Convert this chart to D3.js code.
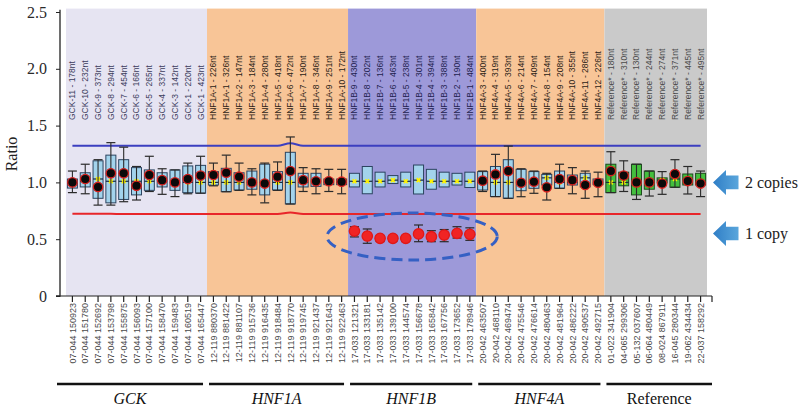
<!DOCTYPE html>
<html><head><meta charset="utf-8">
<script src="https://cdn.jsdelivr.net/npm/d3@7"></script>
<style>body{margin:0;background:#fff}svg{display:block}</style>
</head><body>
<svg id="c" width="800" height="409"></svg>
<script>
const groups = ["GCK","HNF1A","HNF1B","HNF4A","Reference"];
const probeGroup = [
 "GCK","GCK","GCK","GCK","GCK","GCK","GCK","GCK","GCK","GCK","GCK",
 "HNF1A","HNF1A","HNF1A","HNF1A","HNF1A","HNF1A","HNF1A","HNF1A","HNF1A","HNF1A","HNF1A",
 "HNF1B","HNF1B","HNF1B","HNF1B","HNF1B","HNF1B","HNF1B","HNF1B","HNF1B","HNF1B",
 "HNF4A","HNF4A","HNF4A","HNF4A","HNF4A","HNF4A","HNF4A","HNF4A","HNF4A","HNF4A",
 "Reference","Reference","Reference","Reference","Reference","Reference","Reference","Reference"];
const probeLabels = [
 "GCK-11 - 178nt","GCK-10 - 232nt","GCK-9 - 373nt","GCK-8 - 294nt","GCK-7 - 454nt","GCK-6 - 166nt","GCK-5 - 265nt","GCK-4 - 337nt","GCK-3 - 142nt","GCK-1 - 220nt","GCK-1 - 423nt",
 "HNF1A-1 - 226nt","HNF1A-1 - 326nt","HNF1A-2 - 147nt","HNF1A-3 - 184nt","HNF1A-4 - 280nt","HNF1A-5 - 418nt","HNF1A-6 - 472nt","HNF1A-7 - 190nt","HNF1A-8 - 346nt","HNF1A-9 - 251nt","HNF1A-10 - 172nt",
 "HNF1B-9 - 430nt","HNF1B-8 - 202nt","HNF1B-7 - 136nt","HNF1B-6 - 463nt","HNF1B-5 - 238nt","HNF1B-4 - 301nt","HNF1B-4 - 394nt","HNF1B-3 - 388nt","HNF1B-2 - 190nt","HNF1B-1 - 484nt",
 "HNF4A-3 - 400nt","HNF4A-4 - 319nt","HNF4A-5 - 393nt","HNF4A-6 - 214nt","HNF4A-7 - 409nt","HNF4A-8 - 154nt","HNF4A-9 - 208nt","HNF4A-10 - 355nt","HNF4A-11 - 286nt","HNF4A-12 - 226nt",
 "Reference* - 180nt","Reference* - 310nt","Reference* - 130nt","Reference* - 244nt","Reference* - 274nt","Reference* - 371nt","Reference* - 445nt","Reference* - 495nt"];
const probeIds = [
 "07-044 150923","07-044 151780","07-044 152692","07-044 153798","07-044 155875","07-044 156093","07-044 157100","07-044 158470","07-044 159483","07-044 160519","07-044 165447",
 "12-119 880370","12-119 881422","12-119 881107","12-119 915736","12-119 916435","12-119 918484","12-119 918770","12-119 919745","12-119 921437","12-119 921643","12-119 922463",
 "17-033 121321","17-033 133181","17-033 135142","17-033 139100","17-033 144574","17-033 156678","17-033 165842","17-033 167756","17-033 173652","17-033 178946",
 "20-042 463507","20-042 468110","20-042 469474","20-042 475546","20-042 476614","20-042 480463","20-042 481964","20-042 486222","20-042 490537","20-042 492715",
 "01-022 341904","04-065 299306","05-132 037607","06-064 480449","08-024 867911","16-045 280344","19-062 434434","22-037 158292"];
const boxLow = [
 0.95,0.96,0.86,0.82,0.85,0.89,0.93,0.96,0.93,0.91,0.905,
 0.977,0.918,0.933,0.94,0.89,0.933,0.81,0.96,0.965,0.98,0.98,
 0.96,0.90,0.96,0.99,0.96,0.898,0.94,0.96,0.977,0.955,
 0.933,0.875,0.86,0.927,0.948,0.977,0.948,0.977,0.96,0.98,
 0.91,0.97,0.89,0.94,0.997,0.957,0.977,0.977];
const boxHigh = [
 1.03,1.085,1.19,1.24,1.20,1.13,1.11,1.085,1.11,1.145,1.15,
 1.095,1.124,1.085,1.10,1.16,1.095,1.265,1.08,1.08,1.03,1.03,
 1.08,1.14,1.09,1.06,1.09,1.153,1.115,1.09,1.08,1.09,
 1.095,1.14,1.20,1.115,1.095,1.07,1.10,1.065,1.08,1.03,
 1.16,1.09,1.16,1.10,1.04,1.08,1.074,1.08];
const boxMid = [
 0.99,1.01,1.03,1.01,1.01,1.01,1.01,1.01,1.0,1.0,1.0,
 1.0,1.0,1.0,1.0,1.0,1.0,1.0,1.0,1.0,1.0,1.0,
 1.01,1.01,1.01,1.02,1.01,1.02,1.01,1.01,1.01,1.01,
 1.0,1.0,1.0,1.0,1.0,1.04,1.0,1.0,1.04,1.0,
 1.0,1.0,1.0,1.0,1.02,1.03,1.02,1.0];
const sampleValue = [
 1.00,1.03,0.96,1.08,1.08,0.97,1.065,1.02,1.0,1.03,1.06,
 1.065,1.085,1.05,1.00,0.99,1.05,1.10,1.02,1.01,1.01,1.006,
 0.572,0.528,0.508,0.508,0.508,0.546,0.522,0.537,0.552,0.543,
 1.015,1.07,1.10,0.997,1.006,0.957,1.03,1.02,0.977,0.997,
 1.10,1.06,1.0,1.0,0.99,1.074,1.012,0.99];
const errLow = [
 0.91,0.90,0.80,0.80,0.83,0.845,0.92,0.895,0.875,0.90,0.905,
 0.97,0.918,0.93,0.89,0.82,0.93,0.81,0.92,0.90,0.92,0.90,
 0.52,0.464,0.48,0.48,0.48,0.478,0.478,0.478,0.51,0.49,
 0.92,0.875,0.86,0.874,0.904,0.845,0.948,0.90,0.86,0.874,
 0.91,0.92,0.85,0.88,0.895,0.957,0.898,0.875];
const errHigh = [
 1.10,1.16,1.20,1.35,1.31,1.14,1.23,1.12,1.11,1.17,1.23,
 1.17,1.24,1.17,1.12,1.17,1.18,1.40,1.13,1.12,1.115,1.115,
 0.61,0.59,0.53,0.53,0.53,0.625,0.575,0.585,0.61,0.60,
 1.10,1.247,1.32,1.12,1.10,1.08,1.16,1.13,1.10,1.09,
 1.27,1.19,1.16,1.10,1.095,1.20,1.14,1.10];
const upperLimit = [
 1.323,1.323,1.323,1.323,1.323,1.323,1.323,1.323,1.323,1.323,1.323,
 1.323,1.323,1.323,1.323,1.323,1.323,1.345,1.323,1.323,1.323,1.323,
 1.323,1.323,1.323,1.323,1.323,1.323,1.323,1.323,1.323,1.323,
 1.323,1.323,1.323,1.323,1.323,1.323,1.323,1.323,1.323,1.323,
 1.323,1.323,1.323,1.323,1.323,1.323,1.323,1.323];
const lowerLimit = [
 0.724,0.724,0.724,0.723,0.722,0.722,0.721,0.721,0.721,0.721,0.721,
 0.721,0.721,0.721,0.721,0.721,0.721,0.735,0.721,0.721,0.721,0.721,
 0.721,0.721,0.721,0.721,0.721,0.721,0.721,0.721,0.721,0.721,
 0.721,0.721,0.721,0.721,0.721,0.721,0.721,0.721,0.721,0.721,
 0.721,0.721,0.721,0.721,0.721,0.721,0.721,0.721];
const yTicks = [0, 0.5, 1.0, 1.5, 2.0, 2.5];
const yTickLabels = ["0","0.5","1.0","1.5","2.0","2.5"];
const copyLabels = ["2 copies","1 copy"];
const copyLevels = [1.0, 0.55];
const deletedGroup = "HNF1B";

// styles
const bandColor = {GCK:"#e6e4f2",HNF1A:"#f8c597",HNF1B:"#9d99d9",HNF4A:"#f8c597",Reference:"#cacaca"};
const topLabelColor = {GCK:"#3c3c5c",HNF1A:"#2a2216",HNF1B:"#1e1e4e",HNF4A:"#2a2216",Reference:"#4a4a4a"};
const serif = "'Liberation Serif','DejaVu Serif',serif";
const sans = "'Liberation Sans',Arial,sans-serif";

const svg = d3.select("#c");
const n = probeLabels.length;
const x = d3.scaleBand().domain(d3.range(n)).range([66, 707]).padding(0);
const y = d3.scaleLinear().domain([0, 2.5]).range([296, 12]);
const cx = i => x(i) + x.bandwidth()/2;
const bw = x.bandwidth();

// group extents
const gExt = groups.map(g => {
  const idx = d3.range(n).filter(i => probeGroup[i] === g);
  return {g, first: idx[0], last: idx[idx.length-1], x0: x(idx[0]), x1: x(idx[idx.length-1]) + bw};
});

// bands
svg.append("g").selectAll("rect").data(gExt).join("rect")
  .attr("x", d => d.x0).attr("y", y(2.53)).attr("width", d => d.x1 - d.x0)
  .attr("height", y(0) - y(2.53)).attr("fill", d => bandColor[d.g]);

// top labels
svg.append("g").selectAll("text").data(d3.range(n)).join("text")
  .attr("transform", i => `translate(${cx(i)},120) rotate(-90)`)
  .attr("dy", "0.35em").attr("text-anchor", "start")
  .attr("font-family", sans).attr("font-size", 8.5)
  .attr("fill", i => topLabelColor[probeGroup[i]])
  .text(i => probeLabels[i]);

// limit lines
const lineGen = d3.line().x((d, i) => cx(i)).y(d => y(d)).curve(d3.curveMonotoneX);
svg.append("path").attr("d", lineGen(upperLimit)).attr("fill", "none").attr("stroke", "#3c3fc0").attr("stroke-width", 2);
svg.append("path").attr("d", lineGen(lowerLimit)).attr("fill", "none").attr("stroke", "#e8262a").attr("stroke-width", 2);

// boxes
const boxW = bw * 0.78;
const gb = svg.append("g");
d3.range(n).forEach(i => {
  const isRef = probeGroup[i] === "Reference";
  gb.append("rect")
    .attr("x", cx(i) - boxW/2).attr("y", y(boxHigh[i]))
    .attr("width", boxW).attr("height", y(boxLow[i]) - y(boxHigh[i]))
    .attr("fill", isRef ? "#44bf3e" : "#a3d3ec")
    .attr("stroke", isRef ? "#1e4a1e" : "#2c4460").attr("stroke-width", 1);
  gb.append("line")
    .attr("x1", cx(i) - boxW/2).attr("x2", cx(i) + boxW/2)
    .attr("y1", y(boxMid[i])).attr("y2", y(boxMid[i]))
    .attr("stroke", "#1c2a3c").attr("stroke-width", 1.2);
  gb.append("path")
    .attr("d", d3.symbol(d3.symbolCross, 16)())
    .attr("transform", `translate(${cx(i)},${y(boxMid[i])}) rotate(45)`)
    .attr("fill", "#fff200");
});

// error bars + sample points
const ge = svg.append("g");
d3.range(n).forEach(i => {
  const c = cx(i), cap = 4.5;
  ge.append("line").attr("x1", c).attr("x2", c).attr("y1", y(errHigh[i])).attr("y2", y(errLow[i]))
    .attr("stroke", "#2a2a2a").attr("stroke-width", 1.1);
  [errHigh[i], errLow[i]].forEach(v => ge.append("line")
    .attr("x1", c - cap).attr("x2", c + cap).attr("y1", y(v)).attr("y2", y(v))
    .attr("stroke", "#2a2a2a").attr("stroke-width", 1.2));
  const del = probeGroup[i] === deletedGroup;
  ge.append("circle").attr("cx", c).attr("cy", y(sampleValue[i])).attr("r", del ? 5.2 : 4.7)
    .attr("fill", del ? "#f02424" : "#0a0a0a")
    .attr("stroke", del ? "#e01818" : "#d8201e").attr("stroke-width", 1.3);
});

// dashed ellipse around deleted group
const dg = gExt.find(d => d.g === deletedGroup);
const delIdx = d3.range(dg.first, dg.last + 1);
svg.append("ellipse")
  .attr("cx", (dg.x0 + dg.x1)/2)
  .attr("cy", y(d3.mean(delIdx, i => sampleValue[i])) + 1)
  .attr("rx", (dg.x1 - dg.x0)/2 + 21).attr("ry", 23.5)
  .attr("fill", "none").attr("stroke", "#3560c4").attr("stroke-width", 3)
  .attr("stroke-dasharray", "11,6");

// y axis
const yAxis = svg.append("g").attr("transform", "translate(60,0)")
  .call(d3.axisLeft(y).tickValues(yTicks).tickFormat((d, i) => yTickLabels[i]).tickSize(4).tickPadding(9));
yAxis.select(".domain").attr("stroke", "#222").attr("stroke-width", 1.3).attr("d", `M-4,${y(0)}H0V${y(2.52)}`);
yAxis.selectAll(".tick line").attr("stroke", "#222");
yAxis.selectAll(".tick text").attr("font-family", serif).attr("font-size", 16).attr("fill", "#2a2a2a");
svg.append("text").attr("transform", "translate(11,154) rotate(-90)")
  .attr("text-anchor", "middle").attr("dominant-baseline", "central")
  .attr("font-family", serif).attr("font-size", 16).attr("fill", "#222").text("Ratio");

// x axis
svg.append("line").attr("x1", 60).attr("x2", 712).attr("y1", y(0)).attr("y2", y(0))
  .attr("stroke", "#222").attr("stroke-width", 1.2);
svg.append("g").selectAll("line").data(d3.range(n)).join("line")
  .attr("x1", cx).attr("x2", cx).attr("y1", y(0)).attr("y2", y(0) + 6)
  .attr("stroke", "#222").attr("stroke-width", 1.2);
svg.append("line").attr("x1", 712).attr("x2", 712).attr("y1", y(0)).attr("y2", y(0) + 6)
  .attr("stroke", "#222").attr("stroke-width", 1.2);
svg.append("g").selectAll("text").data(d3.range(n)).join("text")
  .attr("transform", i => `translate(${cx(i)},${y(0) + 7}) rotate(-90)`)
  .attr("dy", "0.35em").attr("text-anchor", "end")
  .attr("font-family", sans).attr("font-size", 9).attr("fill", "#4a4a4a")
  .text(i => probeIds[i]);

// group lines + names
gExt.forEach((d, k) => {
  const a = k === 0 ? 57 : d.x0 + 2;
  const b = k === gExt.length - 1 ? 712 : d.x1 - 4;
  svg.append("line").attr("x1", a).attr("x2", b).attr("y1", 384).attr("y2", 384)
    .attr("stroke", "#111").attr("stroke-width", 2.6);
  svg.append("text").attr("x", (a + b)/2).attr("y", 404).attr("text-anchor", "middle")
    .attr("font-family", serif).attr("font-size", 16)
    .attr("font-style", d.g === "Reference" ? "normal" : "italic")
    .attr("fill", "#111").text(d.g);
});

// copy arrows
const defs = svg.append("defs");
const grad = defs.append("linearGradient").attr("id", "ag").attr("x1", "0").attr("x2", "1");
grad.append("stop").attr("offset", "0").attr("stop-color", "#2f7ec6");
grad.append("stop").attr("offset", "1").attr("stop-color", "#5aa6dc");
copyLevels.forEach((v, k) => {
  const cy = y(v);
  svg.append("path")
    .attr("d", `M713,${cy} L726,${cy-12.5} L726,${cy-6.8} L738.5,${cy-6.8} L738.5,${cy+6.8} L726,${cy+6.8} L726,${cy+12.5} Z`)
    .attr("fill", "url(#ag)");
  svg.append("text").attr("x", 745).attr("y", cy).attr("dominant-baseline", "central")
    .attr("font-family", serif).attr("font-size", 16).attr("fill", "#222").text(copyLabels[k]);
});
</script>
</body></html>
